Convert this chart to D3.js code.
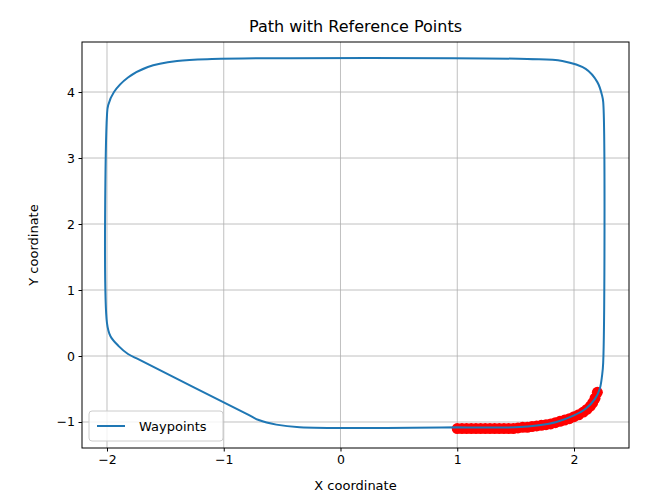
<!DOCTYPE html><html><head><script src="https://cdn.jsdelivr.net/npm/d3@7"></script>
<style>body{margin:0;background:#fff}text{font-family:"DejaVu Sans",sans-serif}</style></head><body><svg id="c" width="659" height="504"></svg>
<script>
const pathX=[1,1.5,1.7,1.85,2.0,2.1,2.18,2.22,2.24,2.25,2.25,2.24,2.2,2.1,1.9,1.6,-1.1,-1.4,-1.65,-1.82,-1.94,-1.99,-2,-2,-1.97,-1.9,-1.82,-1.72,-0.8,-0.7,-0.55,-0.35,1];
const pathY=[-1.08,-1.08,-1.05,-1.0,-0.9,-0.8,-0.65,-0.5,-0.3,-0.1,3.85,3.95,4.15,4.35,4.47,4.5,4.5,4.47,4.38,4.22,4.0,3.8,3.65,0.5,0.3,0.15,0.03,-0.06,-0.88,-0.97,-1.04,-1.08,-1.08];
const refX=[1,1.04,1.08,1.12,1.16,1.2,1.24,1.28,1.32,1.36,1.4,1.44,1.48,1.52,1.56,1.6,1.64,1.68,1.72,1.76,1.8,1.84,1.88,1.92,1.96,2.0,2.04,2.08,2.11,2.14,2.16,2.18,2.2];
const refY=[-1.1,-1.1,-1.1,-1.1,-1.1,-1.1,-1.1,-1.1,-1.1,-1.1,-1.1,-1.1,-1.1,-1.09,-1.08,-1.08,-1.07,-1.06,-1.05,-1.04,-1.03,-1.01,-0.99,-0.97,-0.95,-0.92,-0.89,-0.85,-0.81,-0.76,-0.71,-0.64,-0.55];
const xTicks=[-2,-1,0,1,2], yTicks=[-1,0,1,2,3,4];
const svg=d3.select("#c");
const L=82,R=629,T=42,B=448;
const x=d3.scaleLinear().domain([-2.214,2.471]).range([L,R]);
const y=d3.scaleLinear().domain([-1.394,4.758]).range([B,T]);
svg.append("g").selectAll("line").data(xTicks).join("line").attr("x1",x).attr("x2",x).attr("y1",T).attr("y2",B).attr("stroke","#b0b0b0").attr("stroke-width",0.8);
svg.append("g").selectAll("line").data(yTicks).join("line").attr("y1",y).attr("y2",y).attr("x1",L).attr("x2",R).attr("stroke","#b0b0b0").attr("stroke-width",0.8);
const fmt=d=>d<0?"\u2212"+(-d):d;
const ax=svg.append("g").attr("transform",`translate(0,${B})`).call(d3.axisBottom(x).tickValues(xTicks).tickSize(3.5).tickPadding(3.5).tickFormat(fmt));
const ay=svg.append("g").attr("transform",`translate(${L},0)`).call(d3.axisLeft(y).tickValues(yTicks).tickSize(3.5).tickPadding(3.5).tickFormat(fmt));
[ax,ay].forEach(a=>{a.select(".domain").remove();a.selectAll("text").attr("font-size",12.5).attr("fill","#000").style("font-family","DejaVu Sans")});
svg.append("g").selectAll("circle").data(refX).join("circle").attr("cx",d=>x(d)).attr("cy",(d,i)=>y(refY[i])).attr("r",5.5).attr("fill","red");
svg.append("path").datum(pathX.map((d,i)=>[d,pathY[i]])).attr("d",d3.line().x(d=>x(d[0])).y(d=>y(d[1])).curve(d3.curveCatmullRom.alpha(0.5))).attr("fill","none").attr("stroke","#1f77b4").attr("stroke-width",2);
svg.append("rect").attr("x",L).attr("y",T).attr("width",R-L).attr("height",B-T).attr("fill","none").attr("stroke","#000").attr("stroke-width",1);
svg.append("text").attr("x",(L+R)/2).attr("y",T-10).attr("text-anchor","middle").attr("font-size",16).text("Path with Reference Points");
svg.append("text").attr("x",(L+R)/2).attr("y",490).attr("text-anchor","middle").attr("font-size",13).text("X coordinate");
svg.append("text").attr("transform",`translate(38,${(T+B)/2}) rotate(-90)`).attr("text-anchor","middle").attr("font-size",13).text("Y coordinate");
const lg=svg.append("g").attr("transform","translate(89,411)");
lg.append("rect").attr("width",134).attr("height",30).attr("rx",3).attr("fill","#fff").attr("fill-opacity",0.8).attr("stroke","#ccc");
lg.append("line").attr("x1",8).attr("x2",36).attr("y1",15).attr("y2",15).attr("stroke","#1f77b4").attr("stroke-width",2);
lg.append("text").attr("x",50).attr("y",20).attr("font-size",13).text("Waypoints");
</script></body></html>
